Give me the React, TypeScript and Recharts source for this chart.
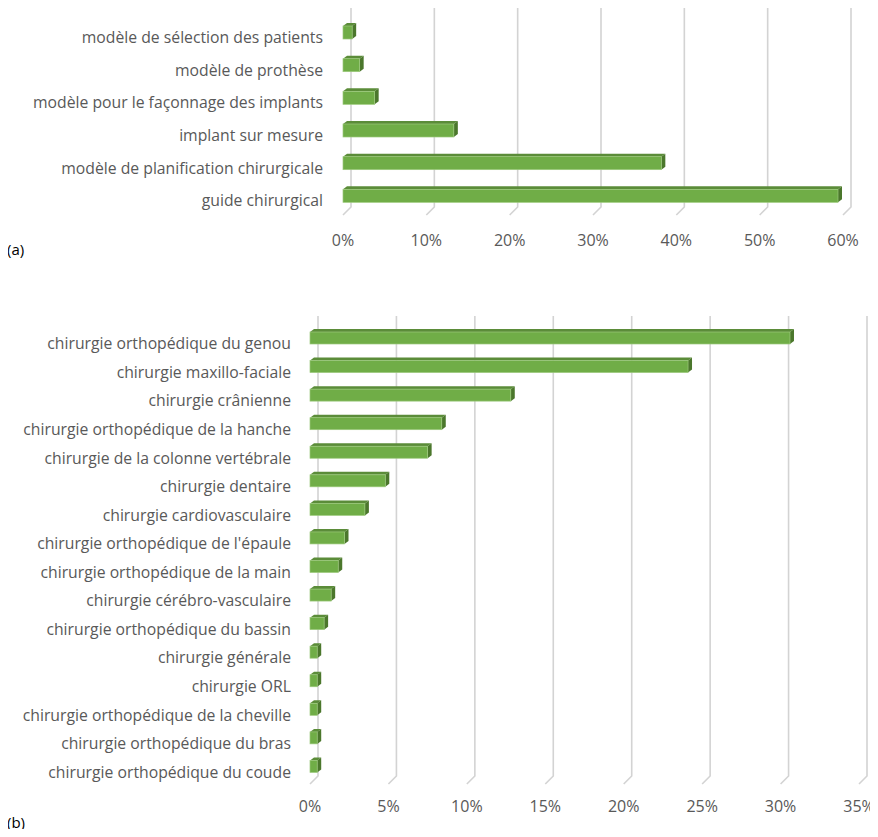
import React from "react";
import { BarChart, Bar, XAxis, YAxis, CartesianGrid } from "recharts";

// (a) usage of 3D printing
const usageLabels = [
  "modèle de sélection des patients",
  "modèle de prothèse",
  "modèle pour le façonnage des implants",
  "implant sur mesure",
  "modèle de planification chirurgicale",
  "guide chirurgical",
];
const usageValues = [0.011, 0.02, 0.038, 0.133, 0.382, 0.594];
const usageTicks = [0, 0.1, 0.2, 0.3, 0.4, 0.5, 0.6];

// (b) surgical specialties
const surgeryLabels = [
  "chirurgie orthopédique du genou",
  "chirurgie maxillo-faciale",
  "chirurgie crânienne",
  "chirurgie orthopédique de la hanche",
  "chirurgie de la colonne vertébrale",
  "chirurgie dentaire",
  "chirurgie cardiovasculaire",
  "chirurgie orthopédique de l'épaule",
  "chirurgie orthopédique de la main",
  "chirurgie cérébro-vasculaire",
  "chirurgie orthopédique du bassin",
  "chirurgie générale",
  "chirurgie ORL",
  "chirurgie orthopédique de la cheville",
  "chirurgie orthopédique du bras",
  "chirurgie orthopédique du coude",
];
const surgeryValues = [
  0.306, 0.241, 0.128, 0.084, 0.075, 0.048, 0.035, 0.022, 0.018, 0.0135,
  0.009, 0.0046, 0.0046, 0.0046, 0.0046, 0.0046,
];
const surgeryTicks = [0, 0.05, 0.1, 0.15, 0.2, 0.25, 0.3, 0.35];

const FONT = "'Open Sans', 'Noto Sans', sans-serif";
const TEXT = "#595959";

const usageData = usageLabels.map((name, i) => ({ name, value: usageValues[i] }));
const surgeryData = surgeryLabels.map((name, i) => ({ name, value: surgeryValues[i] }));

// excel-like 3d bar: front face + top + right side
const Bar3D = (props: any) => {
  const { x, y, width, height } = props;
  const dx = 4;
  const dy = 3;
  if (width == null || width <= 0) return null;
  return (
    <g>
      <path
        d={`M${x},${y} L${x + dx},${y - dy} L${x + width + dx},${y - dy} L${x + width},${y} Z`}
        fill="#5b8c39"
      />
      <path
        d={`M${x + width},${y} L${x + width + dx},${y - dy} L${x + width + dx},${y + height - dy} L${x + width},${y + height} Z`}
        fill="#4b772c"
      />
      <rect x={x} y={y} width={width} height={height} fill="#70ad47" stroke="#9cc97c" strokeWidth={0.7} />
    </g>
  );
};

// back-wall gridline with a short diagonal onto the floor
const wallLine = (props: any) => {
  const { x1, y1, y2 } = props;
  return (
    <path
      key={`g-${x1}`}
      d={`M${x1 + 8},${y1 - 8} L${x1 + 8},${y2 - 5} L${x1},${y2 + 3}`}
      fill="none"
      stroke="#d3d3d3"
      strokeWidth={1.6}
    />
  );
};

const pctTick = (dy: number) => (props: any) => {
  const { x, y, payload } = props;
  return (
    <text x={x} y={y} dy={dy} textAnchor="middle" fill={TEXT} fontSize={16} fontFamily={FONT}>
      {Math.round(payload.value * 100)}%
    </text>
  );
};

const catTick = (gap: number, dy: number) => (props: any) => {
  const { x, y, payload } = props;
  return (
    <text x={x - gap} y={y} dy={dy} textAnchor="end" fill={TEXT} fontSize={15.75} fontFamily={FONT}>
      {payload.value}
    </text>
  );
};

const App = () => {
  return (
    <div style={{ position: "relative", width: 878, height: 837, margin: -8, background: "#fff" }}>
      <div style={{ position: "absolute", left: 0, top: 0 }}>
        <BarChart
          width={878}
          height={262}
          data={usageData}
          layout="vertical"
          margin={{ top: 16, right: 35, bottom: 0, left: 0 }}
          barSize={13}
        >
          <CartesianGrid horizontal={false} vertical={wallLine} />
          <XAxis
            type="number"
            domain={[0, 0.6]}
            ticks={usageTicks}
            axisLine={false}
            tickLine={false}
            tickSize={0}
            tickMargin={0}
            height={50}
            tick={pctTick(34)}
            interval={0}
          />
          <YAxis
            type="category"
            dataKey="name"
            width={343}
            axisLine={false}
            tickLine={false}
            tickSize={0}
            tickMargin={0}
            tick={catTick(20, 10.5)}
            interval={0}
          />
          <Bar dataKey="value" shape={Bar3D} isAnimationActive={false} />
        </BarChart>
      </div>

      <div style={{ position: "absolute", left: 0, top: 300 }}>
        <BarChart
          width={878}
          height={530}
          data={surgeryData}
          layout="vertical"
          margin={{ top: 24, right: 19, bottom: 0, left: 0 }}
          barSize={12}
        >
          <CartesianGrid horizontal={false} vertical={wallLine} />
          <XAxis
            type="number"
            domain={[0, 0.35]}
            ticks={surgeryTicks}
            axisLine={false}
            tickLine={false}
            tickSize={0}
            tickMargin={0}
            height={49}
            tick={pctTick(31)}
            interval={0}
          />
          <YAxis
            type="category"
            dataKey="name"
            width={310}
            axisLine={false}
            tickLine={false}
            tickSize={0}
            tickMargin={0}
            tick={catTick(19, 11)}
            interval={0}
          />
          <Bar dataKey="value" shape={Bar3D} isAnimationActive={false} />
        </BarChart>
      </div>

      <span style={{ position: "absolute", left: 7, top: 239, fontFamily: FONT, fontSize: 15, color: "#000" }}>(a)</span>
      <span style={{ position: "absolute", left: 7, top: 812, fontFamily: FONT, fontSize: 15, color: "#000" }}>(b)</span>
    </div>
  );
};

export default App;
